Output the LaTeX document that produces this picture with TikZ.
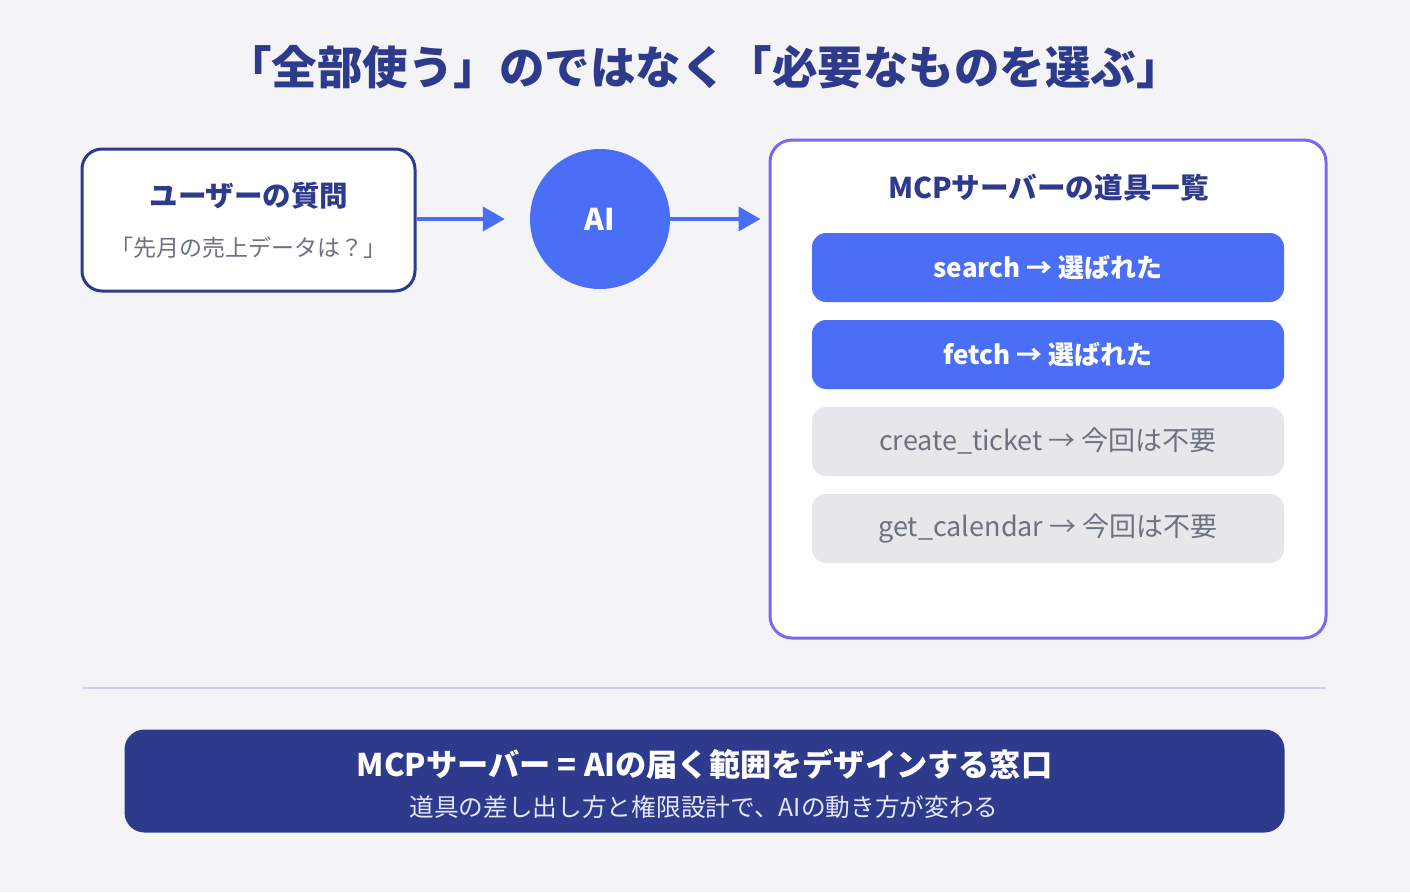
\documentclass[tikz,border=0pt]{standalone}
\usepackage{fontspec}
\setmainfont{Noto Sans CJK JP}
\usetikzlibrary{arrows.meta}
\definecolor{bg}{HTML}{F4F4F7}
\definecolor{navy}{HTML}{2E3A8C}
\definecolor{blue}{HTML}{4A6EF5}
\definecolor{purple}{HTML}{7B68EE}
\definecolor{grayfill}{HTML}{E5E7EB}
\definecolor{graytext}{HTML}{6B7280}
\definecolor{sep}{HTML}{D0D0E6}
\definecolor{subtext}{HTML}{E4E7FF}
\newcommand{\fs}[1]{\fontsize{#1}{#1}\selectfont}
\tikzset{
  boxstyle/.style={rounded corners=20pt, line width=3pt},
  toolon/.style={fill=blue, rounded corners=14pt, draw=none},
  tooloff/.style={fill=grayfill, rounded corners=14pt, draw=none},
  conn/.style={draw=blue, line width=4pt, -{Triangle[length=22pt,width=24pt]}},
  lbl/.style={inner sep=0pt, anchor=center},
}
\begin{document}
\begin{tikzpicture}[x=1pt,y=-1pt]
\useasboundingbox (0,0) rectangle (1410,892);
\fill[bg] (0,0) rectangle (1410,892);
% title
\node[lbl, text=navy] (title) at (704,67) {\fs{45.5}\bfseries 「全部使う」のではなく「必要なものを選ぶ」};
% left box
\node[draw=navy, fill=white, boxstyle, minimum width=333pt, minimum height=142pt, inner sep=0pt] (user) at (248.5,220) {};
\node[lbl, text=navy] (usert) at (249,196) {\fs{28.5}\bfseries ユーザーの質問};
\node[lbl, text=graytext] (users) at (248.5,248) {\fs{23}「先月の売上データは？」};
% AI circle
\node[circle, fill=blue, minimum size=140pt, inner sep=0pt, text=white] (ai) at (600,219) {\fs{30}\bfseries AI};
% right box
\node[draw=purple, fill=white, boxstyle, rounded corners=22pt, minimum width=556pt, minimum height=498pt, inner sep=0pt] (server) at (1048,389) {};
\node[lbl, text=navy] (servert) at (1048.5,188) {\fs{28.6}\bfseries MCPサーバーの道具一覧};
\node[toolon, minimum width=472pt, minimum height=69pt, text=white] (t1) at (1048,267.5) {\fs{26}\bfseries search → 選ばれた};
\node[toolon, minimum width=472pt, minimum height=69pt, text=white] (t2) at (1048,354.5) {\fs{26}\bfseries fetch → 選ばれた};
\node[tooloff, minimum width=472pt, minimum height=69pt, text=graytext] (t3) at (1048,441.5) {\fs{27}create\_ticket → 今回は不要};
\node[tooloff, minimum width=472pt, minimum height=69pt, text=graytext] (t4) at (1048,528.5) {\fs{27}get\_calendar → 今回は不要};
% connectors
\draw[conn] (user.east |- ai.center) -- ([xshift=-25pt]ai.west);
\draw[conn] (ai.east) -- ([xshift=-8pt]ai.east -| server.west);
% separator
\coordinate (sepL) at (83,688);
\coordinate (sepR) at (1326,688);
\draw[sep, line width=2pt] (sepL) -- (sepR);
% bottom banner
\node[fill=navy, rounded corners=20pt, minimum width=1160pt, minimum height=103pt, inner sep=0pt] (banner) at (704.5,781) {};
\node[lbl, text=white] (bannert) at (704.5,764) {\fs{31.2}\bfseries MCPサーバー = AIの届く範囲をデザインする窓口};
\node[lbl, text=subtext] (banners) at (704,807) {\fs{24.7}道具の差し出し方と権限設計で、AIの動き方が変わる};
\end{tikzpicture}
\end{document}
